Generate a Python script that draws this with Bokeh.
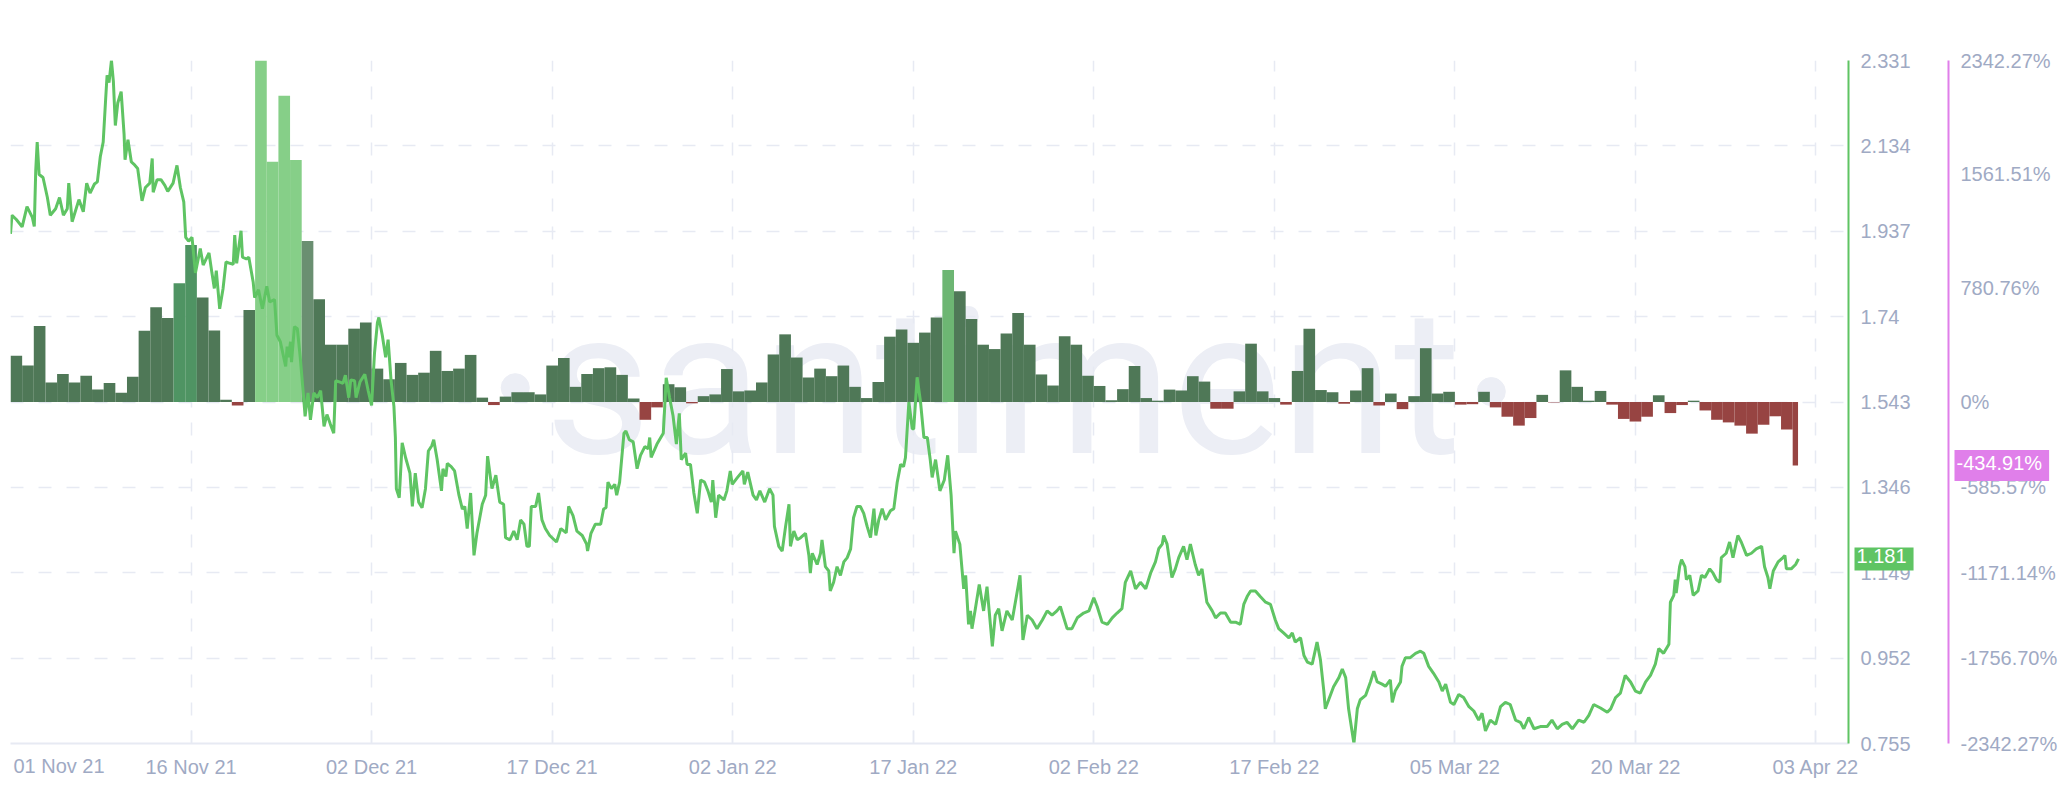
from bokeh.plotting import figure
from bokeh.models import Range1d, FixedTicker, Label, ColumnDataSource
from bokeh.layouts import row
from bokeh.embed import file_html
from bokeh.resources import INLINE
from bokeh.core.properties import value

# ---------------- data ----------------
# price series: hours since 2021-11-01 00:00 and price
price_hours = [
    0, 3, 12, 24, 34, 45, 49, 52, 55, 59,
    67, 76, 82, 93, 101, 109, 117, 120, 127, 141,
    150, 157, 164, 173, 179, 185, 191, 196, 199, 203,
    208, 212, 216, 221, 228, 234, 236, 242, 249, 254,
    262, 271, 278, 287, 292, 294, 302, 310, 318, 324,
    335, 343, 350, 357, 361, 367, 374, 381, 388, 391,
    397, 409, 415, 420, 424, 431, 438, 444, 452, 459,
    462, 466, 475, 478, 486, 491, 500, 503, 511, 519,
    528, 534, 544, 549, 556, 567, 570, 573, 577, 579,
    585, 591, 597, 604, 607, 613, 618, 625, 632, 639,
    646, 652, 659, 666, 670, 679, 685, 690, 697, 701,
    709, 712, 720, 730, 737, 744, 750, 756, 759, 766,
    773, 778, 784, 790, 793, 795, 801, 807, 814, 823,
    828, 834, 841, 848, 855, 861, 868, 872, 879, 888,
    891, 897, 900, 908, 915, 924, 931, 936, 941, 948,
    955, 961, 972, 979, 983, 992, 1000, 1008, 1016, 1020,
    1029, 1037, 1044, 1051, 1058, 1064, 1069, 1073, 1082, 1088,
    1095, 1102, 1111, 1125, 1134, 1145, 1150, 1159, 1167, 1178,
    1187, 1189, 1196, 1205, 1216, 1222, 1227, 1231, 1238, 1245,
    1249, 1255, 1264, 1268, 1275, 1283, 1291, 1298, 1307, 1314,
    1317, 1320, 1332, 1345, 1348, 1351, 1358, 1365, 1372, 1378,
    1382, 1391, 1394, 1401, 1408, 1415, 1422, 1430, 1437, 1444,
    1447, 1453, 1459, 1470, 1476, 1483, 1487, 1498, 1509, 1512,
    1519, 1530, 1537, 1544, 1554, 1564, 1571, 1574, 1583, 1590,
    1597, 1604, 1607, 1614, 1621, 1628, 1638, 1645, 1648, 1652,
    1662, 1669, 1672, 1679, 1686, 1689, 1696, 1703, 1710, 1717,
    1724, 1731, 1737, 1744, 1751, 1758, 1765, 1772, 1779, 1783,
    1789, 1796, 1803, 1813, 1820, 1827, 1834, 1840, 1844, 1851,
    1858, 1861, 1868, 1875, 1882, 1889, 1895,
    1899, 1906, 1915, 1924, 1931, 1938, 1944, 1947, 1956, 1964,
    1968, 1974, 1978, 1981, 1988, 1996, 2005, 2012, 2023, 2029,
    2036, 2043, 2053, 2064, 2074, 2080, 2086, 2095, 2105, 2115,
    2126, 2136, 2146, 2156, 2163, 2177, 2187, 2198, 2211, 2222,
    2232, 2239, 2249, 2260, 2270, 2280, 2290, 2297, 2308, 2318,
    2328, 2339, 2349, 2359, 2366, 2373, 2376, 2383, 2393, 2400,
    2407, 2417, 2424, 2431, 2441, 2448, 2455, 2465, 2476, 2483,
    2493, 2503, 2514, 2524, 2534, 2541, 2548, 2555, 2565, 2575,
    2586, 2596, 2606, 2613, 2623, 2634, 2641, 2647, 2658, 2665,
    2672, 2682, 2692, 2699, 2706, 2709, 2716, 2726, 2737, 2744,
    2751, 2757, 2764, 2768, 2775, 2781, 2792, 2802, 2809, 2816,
    2826, 2833, 2843,
    2847, 2853, 2864, 2867, 2874, 2884, 2895, 2905, 2912, 2922,
    2932, 2943, 2950, 2957, 2967, 2974, 2984, 2994, 3005, 3015,
    3025, 3032, 3039, 3049, 3060, 3070, 3080, 3090, 3101, 3111,
    3118, 3128, 3139, 3152, 3166, 3176, 3187, 3197, 3207, 3218,
    3231, 3242, 3252, 3262, 3276, 3290, 3297, 3307, 3317, 3327,
    3338, 3348, 3358, 3369, 3379, 3389, 3396, 3406, 3417, 3420,
    3427, 3430, 3432, 3439, 3443, 3450, 3453, 3460, 3467, 3477,
    3484, 3491, 3501, 3508, 3515, 3522, 3525, 3535, 3542, 3549,
    3559, 3566, 3577, 3587, 3597, 3608, 3614, 3621, 3625, 3632,
    3642, 3652, 3656, 3659, 3669, 3678, 3684,
]
price_values = [
    1.931, 1.974, 1.964, 1.947, 1.994, 1.969, 1.948, 2.077, 2.143, 2.068,
    2.061, 2.015, 1.974, 1.989, 2.015, 1.974, 1.989, 2.048, 1.959, 2.010,
    1.982, 2.048, 2.025, 2.046, 2.051, 2.109, 2.143, 2.241, 2.297, 2.280,
    2.331, 2.282, 2.181, 2.233, 2.259, 2.161, 2.102, 2.148, 2.097, 2.092,
    2.082, 2.007, 2.038, 2.048, 2.105, 2.027, 2.056, 2.056, 2.043, 2.029,
    2.048, 2.089, 2.038, 2.005, 1.923, 1.914, 1.923, 1.841, 1.880, 1.897,
    1.859, 1.887, 1.841, 1.805, 1.846, 1.758, 1.805, 1.866, 1.863, 1.861,
    1.928, 1.863, 1.938, 1.877, 1.873, 1.877, 1.820, 1.784, 1.802, 1.758,
    1.810, 1.774, 1.779, 1.697, 1.682, 1.625, 1.671, 1.646, 1.682, 1.635,
    1.717, 1.712, 1.646, 1.553, 1.510, 1.564, 1.502, 1.564, 1.553, 1.569,
    1.487, 1.514, 1.492, 1.471, 1.592, 1.589, 1.586, 1.605, 1.553, 1.594,
    1.592, 1.553, 1.589, 1.607, 1.569, 1.535, 1.656, 1.726, 1.738, 1.697,
    1.646, 1.687, 1.594, 1.533, 1.461, 1.343, 1.322, 1.449, 1.415, 1.379,
    1.302, 1.379, 1.312, 1.299, 1.343, 1.430, 1.442, 1.456, 1.411, 1.338,
    1.389, 1.371, 1.401, 1.394, 1.384, 1.328, 1.296, 1.302, 1.251, 1.333,
    1.189, 1.240, 1.307, 1.328, 1.418, 1.343, 1.374, 1.312, 1.307, 1.230,
    1.225, 1.245, 1.225, 1.271, 1.261, 1.210, 1.210, 1.302, 1.302, 1.333,
    1.271, 1.251, 1.235, 1.220, 1.251, 1.241, 1.302, 1.281, 1.245, 1.235,
    1.215, 1.199, 1.240, 1.261, 1.261, 1.296, 1.299, 1.358, 1.343, 1.353,
    1.328, 1.358, 1.471, 1.476, 1.456, 1.451, 1.389, 1.420, 1.440, 1.435,
    1.461, 1.415, 1.446, 1.471, 1.533, 1.599, 1.553, 1.512, 1.446, 1.517,
    1.410, 1.425, 1.399, 1.399, 1.333, 1.286, 1.363, 1.358, 1.338, 1.312,
    1.363, 1.276, 1.328, 1.317, 1.338, 1.384, 1.353, 1.369, 1.384, 1.353,
    1.381, 1.328, 1.317, 1.338, 1.312, 1.343, 1.328, 1.256, 1.210, 1.199,
    1.256, 1.307, 1.210, 1.245, 1.225, 1.230, 1.240, 1.189, 1.148, 1.194,
    1.168, 1.194, 1.225, 1.163, 1.153, 1.107, 1.127, 1.163, 1.143, 1.174,
    1.184, 1.204, 1.276, 1.302, 1.302, 1.286, 1.256, 1.230, 1.297, 1.235,
    1.271, 1.297, 1.271, 1.292, 1.297, 1.358, 1.399, 1.394, 1.415, 1.543,
    1.481, 1.481, 1.600, 1.543, 1.461, 1.461, 1.410,
    1.369, 1.410, 1.338, 1.363, 1.420, 1.328, 1.194, 1.245, 1.215, 1.112,
    1.143, 1.030, 1.061, 1.020, 1.066, 1.122, 1.061, 1.117, 0.979, 1.051,
    1.066, 1.015, 1.061, 1.040, 1.104, 1.143, 0.994, 1.051, 1.040, 1.020,
    1.040, 1.061, 1.051, 1.061, 1.071, 1.020, 1.020, 1.045, 1.056, 1.061,
    1.091, 1.071, 1.035, 1.030, 1.045, 1.056, 1.066, 1.127, 1.153, 1.112,
    1.127, 1.112, 1.148, 1.174, 1.205, 1.215, 1.235, 1.215, 1.138, 1.158,
    1.184, 1.210, 1.179, 1.215, 1.168, 1.143, 1.158, 1.081, 1.061, 1.045,
    1.056, 1.056, 1.035, 1.035, 1.030, 1.076, 1.094, 1.107, 1.107, 1.094,
    1.081, 1.076, 1.040, 1.020, 1.010, 0.999, 1.010, 0.989, 0.999, 0.958,
    0.943, 0.938, 0.989, 0.948, 0.876, 0.835, 0.856, 0.886, 0.907, 0.927,
    0.907, 0.835, 0.784, 0.755, 0.835, 0.856, 0.866, 0.897, 0.922, 0.897,
    0.892, 0.887, 0.902,
    0.850, 0.876, 0.897, 0.933, 0.953, 0.953, 0.963, 0.968, 0.963, 0.933,
    0.917, 0.897, 0.876, 0.892, 0.850, 0.845, 0.868, 0.861, 0.840, 0.830,
    0.809, 0.825, 0.784, 0.809, 0.799, 0.840, 0.850, 0.845, 0.809, 0.804,
    0.789, 0.815, 0.789, 0.794, 0.794, 0.809, 0.789, 0.799, 0.804, 0.789,
    0.809, 0.804, 0.820, 0.845, 0.837, 0.827, 0.835, 0.861, 0.871, 0.912,
    0.897, 0.876, 0.871, 0.897, 0.912, 0.938, 0.974, 0.963, 0.984, 1.081,
    1.097, 1.133, 1.102, 1.163, 1.179, 1.163, 1.133, 1.143, 1.097, 1.107,
    1.143, 1.138, 1.158, 1.148, 1.133, 1.127, 1.184, 1.194, 1.220, 1.184,
    1.235, 1.220, 1.189, 1.194, 1.204, 1.210, 1.163, 1.138, 1.112, 1.153,
    1.174, 1.184, 1.189, 1.158, 1.158, 1.168, 1.181,
]

# daily metric (%), one value per day from 2021-11-01; the last day is partial
bar_values = [
    317, 250, 522, 134, 192, 134, 180, 85, 131, 64,
    174, 488, 650, 576, 814, 1077, 717, 491, 15, -24,
    631, 2400, 1647, 2101, 1659, 1104, 705, 393, 393, 503,
    546, 229, 156, 268, 186, 201, 351, 213, 229, 323,
    30, -21, 37, 67, 67, 52, 250, 302, 104, 192,
    232, 238, 186, 24, -122, -37, 122, 101, -9, 40,
    52, 226, 73, 79, 134, 326, 464, 305, 168, 229,
    177, 250, 104, 27, 137, 448, 497, 406, 476, 580,
    906, 759, 570, 393, 363, 470, 610, 393, 189, 113,
    451, 393, 180, 110, 12, 88, 247, 27, 9, 85,
    79, 177, 140, -46, -46, 73, 400, 73, 27, -18,
    213, 503, 82, 67, -12, 79, 232, -24, 58, -49,
    40, 369, 58, 70, -18, -15, 70, -37, -101, -162,
    -110, 49, -3, 217, 104, 9, 76, -18, -116, -134,
    -101, 46, -76, -21, 9, -58, -122, -140, -162, -217,
    -156, -98, -189, -434.91,
]
last_day_fraction = 0.46
light_days = [21, 22, 23, 24]
soft_days = [80]
mid_days = [14, 15]
pale_days = [25]

tick_days = [0, 15.5, 31, 46.5, 62, 77.5, 93, 108.5, 124, 139.5, 155]
x_tick_labels = ["01 Nov 21", "16 Nov 21", "02 Dec 21", "17 Dec 21", "02 Jan 22",
                 "17 Jan 22", "02 Feb 22", "17 Feb 22", "05 Mar 22", "20 Mar 22", "03 Apr 22"]

price_ticks = [0.755, 0.952, 1.149, 1.346, 1.543, 1.74, 1.937, 2.134, 2.331]
price_tick_labels = ["0.755", "0.952", "1.149", "1.346", "1.543", "1.74", "1.937", "2.134", "2.331"]
pct_ticks = [-2342.27, -1756.70, -1171.14, -585.57, 0, 780.76, 1561.51, 2342.27]
pct_tick_labels = ["-2342.27%", "-1756.70%", "-1171.14%", "-585.57%", "0%", "780.76%", "1561.51%", "2342.27%"]
latest_price = 1.181
latest_pct = -434.91

# ---------------- style ----------------
FONT = "Liberation Sans"
LABEL_COLOR = "#9faac4"
GRID_COLOR = "#e7eaf3"
LINE_GREEN = "#5fc463"
AXIS_PINK = "#e07fea"
DARK = "#4f7857"
LIGHT = "#86cf88"
SOFT = "#6db673"
MID = "#4f9463"
PALE = "#6a8f71"
RED = "#974442"
WATERMARK = "#eceef5"
FS = "20px"

HOURS = 24
x_end = 3787
FIG_H = 780
FRAME_W = 1838
FRAME_H = 685
px_per_x = FRAME_W / x_end
px_per_y = FRAME_H / (price_ticks[-1] - price_ticks[0])

p = figure(width=1946, height=FIG_H, x_range=Range1d(0, x_end),
           y_range=Range1d(price_ticks[0], price_ticks[-1]),
           output_backend="svg", toolbar_location=None, y_axis_location="right",
           min_border_left=10, min_border_right=98, min_border_top=60, min_border_bottom=35)
p.outline_line_color = None
p.background_fill_color = "white"
p.border_fill_color = "white"
p.extra_y_ranges = {"pct": Range1d(pct_ticks[0], pct_ticks[-1])}

# grids
x_ticks = [d * HOURS for d in tick_days]
p.xgrid.ticker = FixedTicker(ticks=x_ticks)
p.ygrid.ticker = FixedTicker(ticks=price_ticks)
for g in (p.xgrid[0], p.ygrid[0]):
    g.grid_line_color = GRID_COLOR
    g.grid_line_width = 1.5
    g.grid_line_dash = "13 15"

# x axis
xa = p.xaxis[0]
xa.ticker = FixedTicker(ticks=x_ticks[1:])
xa.major_label_overrides = {t: s for t, s in zip(x_ticks[1:], x_tick_labels[1:])}
xa.axis_line_color = GRID_COLOR
xa.axis_line_width = 2
xa.major_tick_in = 13
xa.major_tick_out = 0
xa.major_tick_line_color = GRID_COLOR
xa.major_tick_line_width = 1.5
xa.minor_tick_line_color = None
xa.major_label_standoff = 12
xa.major_label_text_font = FONT
xa.major_label_text_font_size = FS
xa.major_label_text_color = LABEL_COLOR

# price axis
ya = p.yaxis[0]
ya.ticker = FixedTicker(ticks=price_ticks)
ya.major_label_overrides = {t: s for t, s in zip(price_ticks, price_tick_labels)}
ya.axis_line_color = LINE_GREEN
ya.axis_line_width = 2
ya.major_tick_line_color = None
ya.minor_tick_line_color = None
ya.major_tick_out = 0
ya.major_tick_in = 0
ya.major_label_standoff = 12
ya.major_label_text_font = FONT
ya.major_label_text_font_size = FS
ya.major_label_text_color = LABEL_COLOR

# watermark
p.text(x=[2045], y=[1.587], text=["santiment"], text_font=value("Roboto"),
       text_font_size=value("205px"), text_color=WATERMARK, text_align="center",
       text_baseline="alphabetic", level="image")
p.scatter(x=[1040, 3051], y=[1.576, 1.567], size=28, color=WATERMARK, level="image")

# bars
n_full = len(bar_values) - 1
bar_x = [HOURS * (i + 0.5) for i in range(n_full)]
bar_w = [HOURS] * n_full
bar_x.append(HOURS * (n_full + last_day_fraction / 2))
bar_w.append(HOURS * last_day_fraction)
colors = []
for i, v in enumerate(bar_values):
    if v < 0:
        colors.append(RED)
    elif i in light_days:
        colors.append(LIGHT)
    elif i in soft_days:
        colors.append(SOFT)
    elif i in mid_days:
        colors.append(MID)
    elif i in pale_days:
        colors.append(PALE)
    else:
        colors.append(DARK)
src = ColumnDataSource(dict(x=bar_x, w=bar_w, top=bar_values, color=colors))
p.vbar(x="x", width="w", top="top", bottom=0, fill_color="color", line_color=None,
       y_range_name="pct", source=src)

# price line
p.line(price_hours, price_values, line_color=LINE_GREEN, line_width=3)

# first date label, kept inside the chart (side-panel annotations are not clipped)
p.add_layout(Label(x=6, y=price_ticks[0] - 23 / px_per_y, text=x_tick_labels[0],
                   text_font=FONT, text_font_size=FS, text_color=LABEL_COLOR,
                   text_baseline="middle", text_align="left"), "above")

# latest price marker
p.add_layout(Label(x=x_end + 6 / px_per_x, y=latest_price,
                   text=f"{latest_price:.3f}", text_font=FONT, text_font_size=FS,
                   text_color="white", background_fill_color=LINE_GREEN,
                   text_baseline="middle", text_align="left", padding=(2, 7, 2, 7)), "above")

# percent axis figure
p2 = figure(width=122, height=FIG_H, x_range=Range1d(0, 1),
            y_range=Range1d(pct_ticks[0], pct_ticks[-1]),
            output_backend="svg", toolbar_location=None, x_axis_location=None,
            y_axis_location="right", min_border_left=0, min_border_right=120,
            min_border_top=60, min_border_bottom=35)
p2.outline_line_color = None
p2.grid.visible = False
p2.border_fill_color = "white"
pa = p2.yaxis[0]
pa.ticker = FixedTicker(ticks=pct_ticks)
pa.major_label_overrides = {t: s for t, s in zip(pct_ticks, pct_tick_labels)}
pa.axis_line_color = AXIS_PINK
pa.axis_line_width = 2
pa.major_tick_line_color = None
pa.minor_tick_line_color = None
pa.major_tick_out = 0
pa.major_tick_in = 0
pa.major_label_standoff = 12
pa.major_label_text_font = FONT
pa.major_label_text_font_size = FS
pa.major_label_text_color = LABEL_COLOR
p2.add_layout(Label(x=4, y=latest_pct, text=f"{latest_pct:.2f}%", text_font=FONT,
                    text_font_size=FS, text_color="white", background_fill_color=AXIS_PINK,
                    text_baseline="middle", text_align="left", padding=(2, 7, 2, 7)), "above")

layout = row(p, p2)
open("out.html", "w").write(file_html(layout, INLINE))
